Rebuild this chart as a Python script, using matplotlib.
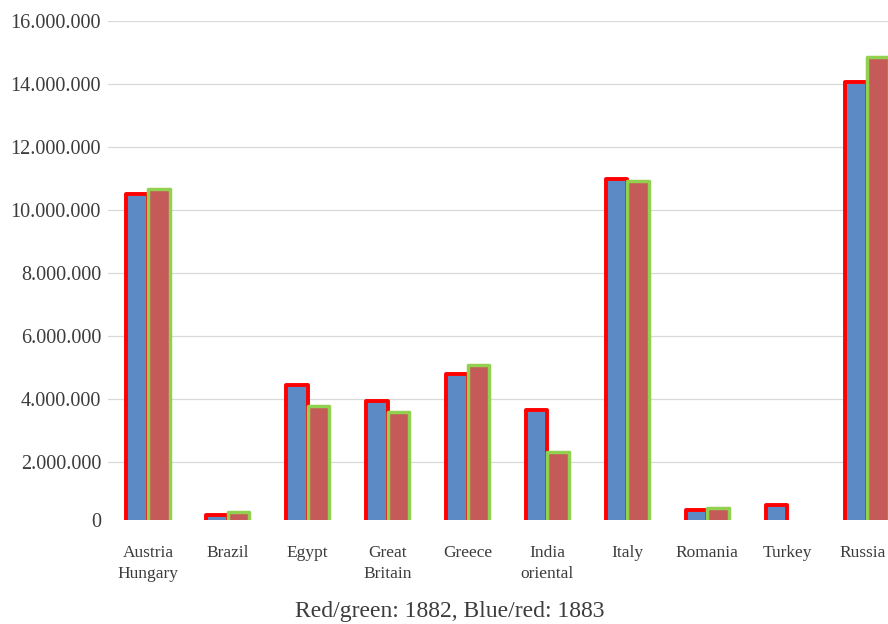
import matplotlib
matplotlib.use("Agg")
import matplotlib.pyplot as plt
from matplotlib.transforms import ScaledTranslation
import numpy as np

countries = ["Austria\nHungary", "Brazil", "Egypt", "Great\nBritain", "Greece",
             "India\noriental", "Italy", "Romania", "Turkey", "Russia"]
blue_red = [10.51e6, 0.34e6, 4.46e6, 3.94e6, 4.81e6, 3.67e6, 10.99e6, 0.48e6, 0.64e6, 14.08e6]
red_green = [10.69e6, 0.43e6, 3.78e6, 3.60e6, 5.08e6, 2.33e6, 10.93e6, 0.55e6, np.nan, 14.87e6]
yticks = [2e6, 4e6, 6e6, 8e6, 10e6, 12e6, 14e6, 16e6]
caption = "Red/green: 1882, Blue/red: 1883"

plt.rcParams['font.family'] = ['Liberation Serif', 'DejaVu Serif']
text_color = '#3C3C3C'

W, H = 888, 624
fig = plt.figure(figsize=(W / 100, H / 100), dpi=100)
ax = fig.add_axes([108 / W, (H - 520) / H, (907 - 108) / W, (520 - 21.3) / H])

x = np.arange(len(countries))
w = 0.27
ax.bar(x - 0.135, blue_red, w, color='#5B8AC4', edgecolor='#FF0000',
       linewidth=2.8, joinstyle='round', zorder=3)
mask = ~np.isnan(red_green)
ax.bar(x[mask] + 0.135, np.array(red_green)[mask], w, color='#C45B58',
       edgecolor='#92D050', linewidth=2.5, joinstyle='round', zorder=3)

ax.set_xlim(-0.5, len(countries) - 0.5)
ax.set_ylim(0.174e6, 16e6)
ax.set_yticks(yticks)
ax.set_yticklabels([f"{int(v):,}".replace(",", ".") for v in yticks])
# zero sits just under the clipped bottom edge, so label it by hand
ax.annotate("0", xy=(0, 0), xycoords=('axes fraction', 'data'),
            xytext=(-7, 3), textcoords='offset pixels', ha='right', va='center',
            fontsize=14.5, color=text_color, annotation_clip=False)
ax.set_xticks(x)
ax.set_xticklabels(countries, fontsize=12.5, color=text_color, linespacing=1.45)
ax.tick_params(axis='y', length=0, pad=5, labelsize=14.5, labelcolor=text_color)
ax.tick_params(axis='x', length=0, pad=18)
ax.grid(axis='y', color='#D9D9D9', linewidth=0.9, zorder=0)
for s in ax.spines.values():
    s.set_visible(False)

# last label runs into the figure edge; nudge it left a little
last = ax.get_xticklabels()[-1]
last.set_transform(last.get_transform() + ScaledTranslation(-4 / 100, 0, fig.dpi_scale_trans))

fig.text(450 / W, 1 - 612 / H, caption, ha='center', va='center',
         fontsize=17, color=text_color)

fig.savefig("out.png", dpi=100)
